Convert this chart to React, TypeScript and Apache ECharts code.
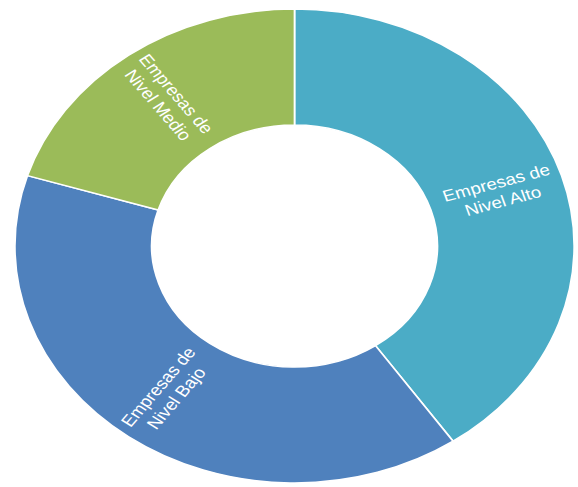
import React, { useEffect, useRef } from "react";
import * as echarts from "echarts";

const categories = ["Empresas de\nNivel Alto", "Empresas de\nNivel Bajo", "Empresas de\nNivel Medio"];
const values = [40, 39, 20];
const colors = ["#4BACC6", "#4F81BD", "#9BBB59"];

const SX = 1.18;

export default function App() {
  const ref = useRef<HTMLDivElement>(null);
  useEffect(() => {
    if (!ref.current) return;
    const chart = echarts.init(ref.current, undefined, { renderer: "svg" });
    chart.setOption({
      animation: false,
      backgroundColor: "#ffffff",
      series: [
        {
          type: "pie",
          center: [249.6, 246],
          radius: [121, 237],
          startAngle: 90,
          clockwise: true,
          avoidLabelOverlap: false,
          itemStyle: { borderColor: "#ffffff", borderWidth: 1.5 },
          label: {
            show: true,
            position: "inside",
            rotate: "radial",
            color: "#ffffff",
            fontSize: 16,
            lineHeight: 19,
            fontFamily: "Liberation Sans, Arial, sans-serif",
            formatter: "{b}",
          },
          labelLine: { show: false },
          emphasis: { disabled: true },
          data: categories.map((c, i) => ({
            name: c,
            value: values[i],
            itemStyle: { color: colors[i] },
          })),
        },
      ],
    });
    return () => chart.dispose();
  }, []);
  return (
    <div style={{ position: "fixed", left: 0, top: 0, width: 578, height: 487, overflow: "hidden", background: "#fff" }}>
      <div
        ref={ref}
        style={{
          width: Math.round(578 / SX),
          height: 487,
          transform: `scaleX(${SX})`,
          transformOrigin: "left top",
        }}
      />
    </div>
  );
}
